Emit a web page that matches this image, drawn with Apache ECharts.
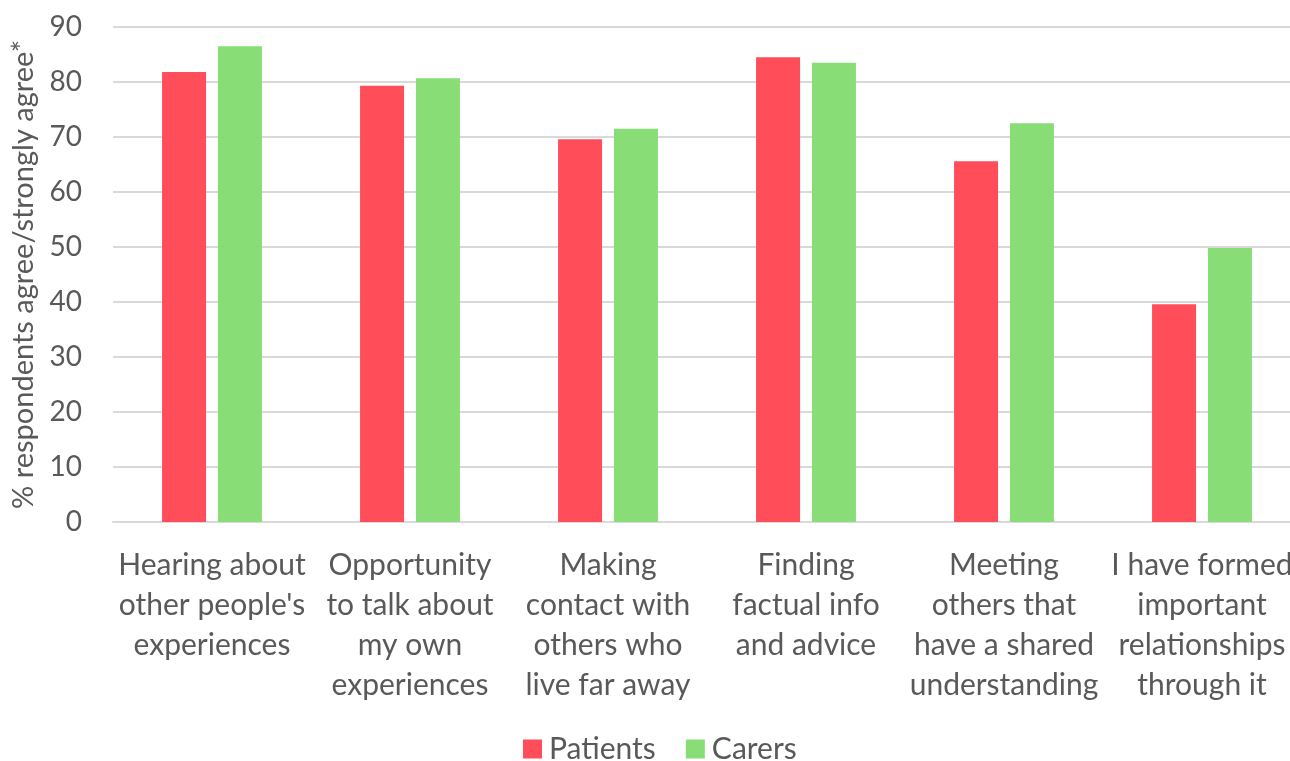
<!DOCTYPE html>
<html>
<head>
<meta charset="utf-8">
<script src="https://cdn.jsdelivr.net/npm/echarts@6/dist/echarts.min.js"></script>
<style>
  html, body { margin: 0; padding: 0; background: #fff; }
  #chart { width: 1290px; height: 761px; }
</style>
</head>
<body>
<div id="chart"></div>
<script>
// --- Data ---
const categories = [
    "Hearing about\nother people's\nexperiences",
    "Opportunity\nto talk about\nmy own\nexperiences",
    "Making\ncontact with\nothers who\nlive far away",
    "Finding\nfactual info\nand advice",
    "Meeting\nothers that\nhave a shared\nunderstanding",
    "I have formed\nimportant\nrelationships\nthrough it"
];
const patients = [81.8, 79.3, 69.6, 84.5, 65.6, 39.6];
const carers = [86.5, 80.7, 71.5, 83.5, 72.5, 49.8];
const yTicks = { min: 0, max: 90, interval: 10 };

const textColor = '#595959';
const font = 'Lato, "Open Sans", sans-serif';

const chart = echarts.init(document.getElementById('chart'));
chart.setOption({
    animation: false,
    textStyle: { fontFamily: font },
    grid: { left: 113, width: 1188, top: 27, bottom: 239, outerBoundsMode: 'none', containLabel: false },
    legend: {
        bottom: -8,
        left: 518,
        itemWidth: 19,
        itemHeight: 19,
        itemGap: 30,
        icon: 'rect',
        textStyle: { fontSize: 30, color: textColor, fontFamily: font, padding: [0, 0, 0, 2] },
        data: ['Patients', 'Carers']
    },
    xAxis: {
        type: 'category',
        data: categories,
        axisTick: { show: false },
        axisLine: { lineStyle: { color: '#d9d9d9', width: 2 } },
        axisLabel: {
            interval: 0,
            fontSize: 30,
            lineHeight: 40,
            color: textColor,
            margin: 23,
            align: 'center',
            verticalAlign: 'top'
        }
    },
    yAxis: {
        type: 'value',
        min: yTicks.min,
        max: yTicks.max,
        interval: yTicks.interval,
        name: '% respondents agree/strongly agree*',
        nameLocation: 'middle',
        nameGap: 72,
        nameTextStyle: { fontSize: 29, color: textColor },
        axisLabel: { fontSize: 28, color: textColor, margin: 31 },
        splitLine: { lineStyle: { color: '#d9d9d9', width: 2 } },
        axisLine: { show: false },
        axisTick: { show: false }
    },
    series: [
        {
            name: 'Patients',
            type: 'bar',
            data: patients,
            barWidth: 44,
            barGap: '27%',
            itemStyle: { color: '#ff4d5a' }
        },
        {
            name: 'Carers',
            type: 'bar',
            data: carers,
            barWidth: 44,
            itemStyle: { color: '#88dd77' }
        }
    ]
});
</script>
</body>
</html>
